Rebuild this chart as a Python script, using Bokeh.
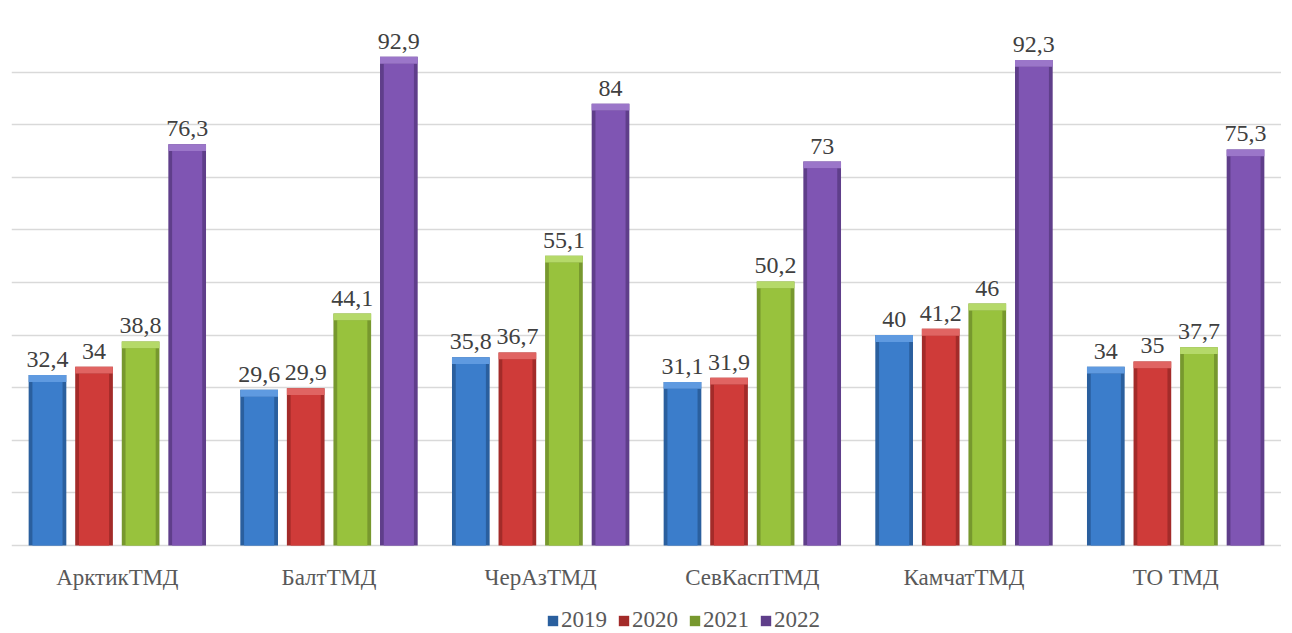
from bokeh.plotting import figure
from bokeh.models import ColumnDataSource, FactorRange, Range1d, Legend, LegendItem, FixedTicker
from bokeh.transform import dodge
from bokeh.core.properties import value
from bokeh.embed import file_html
from bokeh.resources import INLINE

categories = ["АрктикТМД", "БалтТМД", "ЧерАзТМД", "СевКаспТМД", "КамчатТМД", "ТО ТМД"]
years = ["2019", "2020", "2021", "2022"]
v2019 = [32.4, 29.6, 35.8, 31.1, 40, 34]
v2020 = [34, 29.9, 36.7, 31.9, 41.2, 35]
v2021 = [38.8, 44.1, 55.1, 50.2, 46, 37.7]
v2022 = [76.3, 92.9, 84, 73, 92.3, 75.3]
series = [v2019, v2020, v2021, v2022]
grid_ticks = list(range(0, 101, 10))

main_colors = ["#3b7dcb", "#cf3b39", "#98c23d", "#7f55b3"]
edge_colors = ["#2a5f9e", "#a32b29", "#77982e", "#5f3e8a"]
cap_colors = ["#5f9ae0", "#e06462", "#b5d969", "#9b76c9"]

offsets = [-0.33, -0.11, 0.11, 0.33]
bw = 0.178

FONT = "Liberation Serif"

# layout: value 100 at 19px, value 0 at 545px, frame bottom at 633px
TOP_PX, ZERO_PX, BOTTOM_PX = 19, 545, 633
ymin = -100.0 * (BOTTOM_PX - ZERO_PX) / (ZERO_PX - TOP_PX)

p = figure(x_range=FactorRange(*categories, range_padding=0), y_range=Range1d(ymin, 100),
           width=1281, height=633, output_backend="svg", toolbar_location=None,
           min_border_left=11, min_border_right=0, min_border_top=TOP_PX, min_border_bottom=0)
p.outline_line_color = None
p.axis.visible = False
p.xgrid.grid_line_color = None
p.ygrid.ticker = FixedTicker(ticks=grid_ticks)
p.ygrid.grid_line_color = "#d9d9d9"
p.ygrid.grid_line_width = 1.3

items = []
for i, (yr, vals) in enumerate(zip(years, series)):
    cap_h = [min(1.3, v * 0.05) for v in vals]
    src = ColumnDataSource(dict(cat=categories, val=vals,
                                capb=[v - c for v, c in zip(vals, cap_h)],
                                lab=[str(v).replace(".", ",") for v in vals]))
    xd = dodge("cat", offsets[i], range=p.x_range)
    r1 = p.vbar(x=xd, top="val", bottom=0, width=bw, source=src,
                fill_color=edge_colors[i], line_color=None)
    p.vbar(x=xd, top="capb", bottom=0, width=bw * 0.8, source=src,
           fill_color=main_colors[i], line_color=None)
    p.vbar(x=xd, top="val", bottom="capb", width=bw, source=src,
           fill_color=cap_colors[i], line_color=None)
    p.text(x=xd, y="val", text="lab", source=src, y_offset=-8,
           text_align="center", text_baseline="bottom",
           text_font=value(FONT), text_font_size="24px", text_color="#404040")
    items.append(LegendItem(label=yr, renderers=[r1]))

cat_src = ColumnDataSource(dict(cat=categories, y0=[0] * len(categories)))
p.text(x="cat", y="y0", text="cat", source=cat_src, y_offset=32,
       text_align="center", text_baseline="middle",
       text_font=value(FONT), text_font_size="23px", text_color="#595959")

legend = Legend(items=items, orientation="horizontal", location=(535, 0),
                label_text_font=FONT, label_text_font_size="23px", label_text_color="#595959",
                label_height=22, glyph_width=13, glyph_height=13, spacing=10, label_standoff=2,
                border_line_color=None, background_fill_alpha=0, padding=0, margin=0)
p.add_layout(legend)

open("out.html", "w").write(file_html(p, INLINE))
